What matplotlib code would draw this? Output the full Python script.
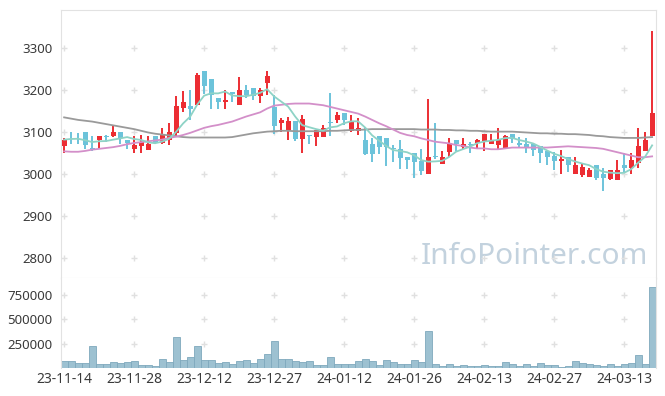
import numpy as np
import pandas as pd
import matplotlib
matplotlib.use('Agg')
import matplotlib.pyplot as plt

# daily OHLC (index 0 = 23-11-14, one entry per trading day)
opens = [3066, 3087, 3087, 3100, 3061, 3080, 3090, 3090, 3100, 3082,
         3060, 3066, 3058, 3091, 3075, 3080, 3098, 3158, 3161, 3165,
         3246, 3227, 3182, 3171, 3196, 3165, 3201, 3205, 3185, 3217,
         3159, 3121, 3104, 3126, 3083, 3091, 3089, 3089, 3123, 3129,
         3146, 3103, 3102, 3081, 3071, 3090, 3085, 3060, 3059, 3041,
         3049, 3032, 2999, 3041, 3025, 3053, 3081, 3065, 3070, 3075,
         3079, 3071, 3069, 3059, 3095, 3075, 3071, 3072, 3067, 3056,
         3042, 3030, 3040, 3000, 2998, 2994, 3022, 3001, 2989, 2985,
         3022, 3014, 3026, 3054, 3090]
closes = [3082, 3085, 3085, 3070, 3059, 3091, 3088, 3101, 3085, 3075,
          3068, 3077, 3072, 3075, 3094, 3101, 3161, 3172, 3155, 3237,
          3209, 3189, 3171, 3177, 3190, 3201, 3189, 3187, 3201, 3233,
          3115, 3128, 3127, 3083, 3130, 3090, 3105, 3109, 3122, 3141,
          3129, 3127, 3109, 3048, 3048, 3065, 3065, 3059, 3037, 3033,
          3029, 3008, 3040, 3040, 3040, 3075, 3071, 3071, 3069, 3081,
          3095, 3081, 3081, 3090, 3084, 3069, 3063, 3058, 3050, 3040,
          3030, 3036, 3021, 3022, 3016, 3010, 2990, 2990, 3010, 3010,
          3014, 3033, 3067, 3082, 3145]
highs = [3086, 3099, 3098, 3100, 3090, 3091, 3094, 3117, 3100, 3082,
         3090, 3094, 3090, 3091, 3110, 3121, 3187, 3197, 3201, 3241,
         3246, 3227, 3182, 3201, 3196, 3231, 3213, 3205, 3205, 3246,
         3189, 3133, 3137, 3126, 3140, 3091, 3105, 3117, 3194, 3148,
         3146, 3140, 3133, 3113, 3087, 3090, 3085, 3069, 3081, 3041,
         3049, 3059, 3180, 3121, 3055, 3085, 3081, 3085, 3077, 3083,
         3095, 3095, 3109, 3093, 3095, 3089, 3085, 3072, 3067, 3056,
         3052, 3058, 3040, 3040, 3026, 3014, 3022, 3014, 3010, 3033,
         3050, 3050, 3110, 3100, 3340]
lows = [3050, 3072, 3072, 3060, 3054, 3062, 3076, 3088, 3072, 3060,
        3050, 3050, 3058, 3072, 3072, 3070, 3090, 3149, 3129, 3165,
        3191, 3155, 3155, 3155, 3171, 3165, 3181, 3176, 3169, 3189,
        3095, 3100, 3082, 3079, 3049, 3071, 3067, 3089, 3090, 3121,
        3117, 3101, 3093, 3045, 3029, 3048, 3020, 3029, 3013, 3013,
        2990, 2998, 2999, 3036, 3025, 3041, 3056, 3059, 3049, 3059,
        3054, 3071, 3057, 3059, 3073, 3063, 3049, 3044, 3026, 3022,
        3010, 3001, 3004, 3000, 2994, 2994, 2986, 2960, 2986, 2985,
        3002, 3001, 3014, 3054, 3090]
volumes = [68500, 75000, 48000, 55000, 229000, 44500, 44500, 65000, 55000, 65000,
           75000, 34000, 34000, 24000, 96000, 65000, 322000, 86000, 116000, 229000,
           86000, 86000, 55000, 65000, 44500, 75000, 86000, 55000, 96000, 147000,
           281000, 96000, 96000, 75000, 65000, 75000, 34000, 34000, 116000, 44500,
           44500, 44500, 75000, 96000, 75000, 34000, 86000, 65000, 44500, 44500,
           86000, 65000, 384000, 44500, 24000, 44500, 24000, 34000, 24000, 24000,
           34000, 24000, 24000, 65000, 44500, 24000, 44500, 24000, 55000, 34000,
           34000, 10000, 24000, 75000, 55000, 44500, 34000, 24000, 44500, 24000,
           44500, 55000, 137000, 44500, 836000]
# longer moving averages (they need earlier history)
ma20 = [3054, 3053, 3053, 3055, 3058, 3060, 3062, 3064, 3067, 3071,
        3074, 3076, 3078, 3080, 3082, 3086, 3089, 3093, 3098, 3104,
        3110, 3114, 3117, 3121, 3125, 3131, 3137, 3142, 3147, 3156,
        3163, 3165, 3167, 3168, 3168, 3168, 3166, 3164, 3160, 3156,
        3152, 3148, 3144, 3137, 3129, 3121, 3114, 3106, 3098, 3093,
        3090, 3085, 3081, 3077, 3075, 3073, 3069, 3067, 3063, 3061,
        3061, 3059, 3059, 3061, 3063, 3063, 3063, 3063, 3063, 3063,
        3064, 3065, 3066, 3065, 3064, 3063, 3062, 3060, 3056, 3052,
        3048, 3044, 3040, 3040, 3042]
ma60 = [3135, 3132, 3129, 3127, 3125, 3122, 3119, 3116, 3113, 3110,
        3107, 3103, 3099, 3096, 3094, 3092, 3090, 3088, 3087, 3087,
        3087, 3087, 3087, 3087, 3088, 3091, 3094, 3097, 3099, 3101,
        3102, 3103, 3103, 3102, 3102, 3102, 3102, 3102, 3103, 3103,
        3104, 3105, 3105, 3106, 3107, 3107, 3107, 3107, 3107, 3107,
        3107, 3106, 3106, 3106, 3105, 3105, 3104, 3104, 3103, 3103,
        3102, 3101, 3101, 3101, 3101, 3100, 3099, 3098, 3097, 3097,
        3096, 3096, 3095, 3095, 3094, 3093, 3091, 3090, 3088, 3087,
        3086, 3086, 3086, 3087, 3088]
tick_labels = ['23-11-14', '23-11-28', '23-12-12', '23-12-27', '24-01-12',
               '24-01-26', '24-02-13', '24-02-27', '24-03-13']
price_ticks = [2800, 2900, 3000, 3100, 3200, 3300]
vol_ticks = [250000, 500000, 750000]

UP = '#ec2d33'
DOWN = '#6cc3da'
GRID = '#e0e0e0'
plt.rcParams['font.family'] = ['Noto Sans', 'DejaVu Sans']

o = np.array(opens)
c = np.array(closes)
x = np.arange(len(o))
ma5 = pd.Series(closes).rolling(5, min_periods=1).mean()
colors = np.where(c >= o, UP, DOWN)
tick_pos = x[::10][:len(tick_labels)]

fig = plt.figure(figsize=(6.65, 3.96), dpi=100)
ax = fig.add_axes([0.0917, 0.298, 0.8947, 0.6767])
axv = fig.add_axes([0.0917, 0.0707, 0.8947, 0.2273], sharex=ax)

# candles
ax.vlines(x, lows, highs, colors=colors, linewidth=1.4, zorder=3)
body = np.maximum(np.abs(c - o), 2)
ax.bar(x, body, bottom=np.minimum(o, c), width=0.72, color=colors, zorder=4)

ax.plot(x, ma60, color='#9a9a9a', linewidth=1.3, zorder=5)
ax.plot(x, ma20, color='#d38fc9', linewidth=1.3, zorder=5)
ax.plot(x, ma5, color='#8ed3c6', linewidth=1.3, zorder=5)

# little "+" grid marks
gx, gy = np.meshgrid(tick_pos, price_ticks)
ax.plot(gx.ravel(), gy.ravel(), '+', color=GRID, markersize=4, mew=1, zorder=1)
gx, gy = np.meshgrid(tick_pos, vol_ticks)
axv.plot(gx.ravel(), gy.ravel(), '+', color=GRID, markersize=4, mew=1, zorder=1)

ax.text(0.987, 0.082, 'InfoPointer.com', transform=ax.transAxes, ha='right', va='center',
        fontsize=21.5, color='#c3d2de', zorder=0)

axv.bar(x, volumes, width=1.0, color='#9dc1d1', edgecolor='#7fa9bd', linewidth=0.6)

ax.set_xlim(-0.45, 84.55)
ax.set_ylim(2752, 3391)
axv.set_ylim(0, 926000)

ax.set_yticks(price_ticks)
axv.set_yticks(vol_ticks)
axv.set_xticks(tick_pos)
axv.set_xticklabels(tick_labels)
ax.tick_params(axis='x', labelbottom=False, length=0)
for a in (ax, axv):
    a.tick_params(axis='both', length=0, labelsize=9.5, colors='#3a3a3a', pad=6)
    for s in a.spines.values():
        s.set_color('#e2e2e2')
axv.tick_params(axis='x', labelsize=10, pad=3)
axv.spines['bottom'].set_visible(False)
axv.spines['top'].set_visible(False)

fig.savefig('out.png', dpi=100)
